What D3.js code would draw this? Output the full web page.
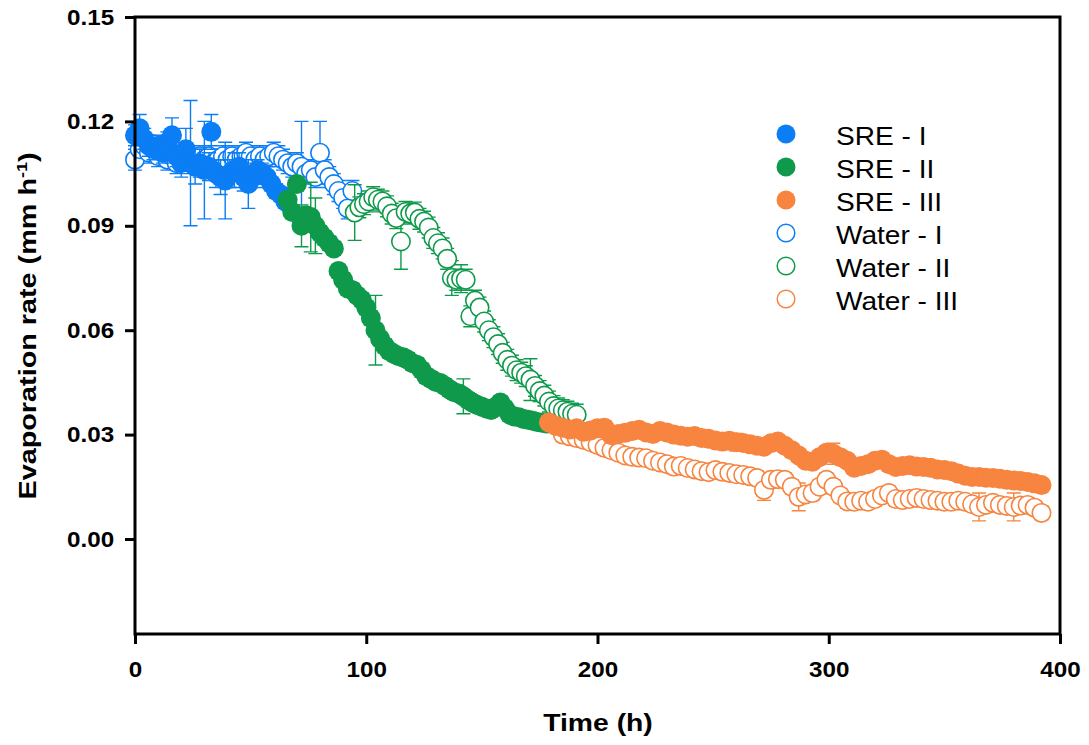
<!DOCTYPE html>
<html>
<head>
<meta charset="utf-8">
<script src="https://cdn.jsdelivr.net/npm/d3@7"></script>
<style>
  body { margin: 0; background: #fff; }
  text { font-family: "Liberation Sans", Arial, sans-serif; }
</style>
</head>
<body>
<div id="chart"></div>
<script>
// Colours
var blue = "#0b7df5", green = "#0f9a4b", orange = "#f7843f";

// SRE - I
var sreIHours = [0,2,4,6,8,10,12,14,16,18, 20,22,24,26,28,30,32,33,35,37,
                 39,41,43,45,47,49,51,53,55,57, 59,61,63,65];
var sreIRate = [0.116,0.118,0.115,0.113,0.112,0.113,0.111,0.114,0.116,0.110,
                0.108,0.112,0.108,0.107,0.108,0.106,0.107,0.117,0.105,0.104,
                0.103,0.105,0.106,0.107,0.104,0.102,0.104,0.106,0.105,0.104,
                0.102,0.100,0.099,0.097];
var sreIErr = [0.003,0.004,0.003,0.003,0.003,0.003,0.003,0.003,0.005,0.003,
               0.004,0.006,0.018,0.005,0.004,0.014,0.004,0.005,0.004,0.005,
               0.011,0.004,0.005,0.004,0.004,0.007,0.003,0.003,0.003,0.003,
               0.002,0.002,0.002,0.002];

// SRE - II
var sreIIHours = [66,68,70,72,74,76,78,80,82,84, 86,88,90,92,94,96,98,100,102,104,
                  106,108,110,112,114,116,118,120,122,124, 126,128,130,132,134,136,138,140,142,144,
                  146,148,150,152,154,156,158,160,162,164, 166,168,170,172,174,176,178];
var sreIIRate = [0.0975,0.0940,0.1020,0.0900,0.0930,0.0925,0.0900,0.0880,0.0865,0.0850,
                 0.0835,0.0770,0.0745,0.0720,0.0715,0.0700,0.0688,0.0665,0.0635,0.0600,
                 0.0575,0.0555,0.0540,0.0532,0.0525,0.0522,0.0515,0.0505,0.0500,0.0485,
                 0.0468,0.0460,0.0452,0.0448,0.0440,0.0430,0.0422,0.0418,0.0410,0.0400,
                 0.0392,0.0385,0.0380,0.0375,0.0371,0.0380,0.0392,0.0375,0.0358,0.0352,
                 0.0350,0.0345,0.0343,0.0340,0.0336,0.0334,0.0332];
var sreIIErr = [0.002,0.002,0.002,0.006,0.002,0.010,0.008,0.002,0.002,0.002,
                0.002,0.002,0.002,0.002,0.002,0.002,0.002,0.002,0.002,0.010,
                0.002,0.002,0.002,0.002,0.002,0.002,0.002,0.002,0.002,0.002,
                0.002,0.002,0.002,0.002,0.002,0.002,0.002,0.002,0.005,0.002,
                0.002,0.002,0.002,0.002,0.002,0.002,0.002,0.002,0.002,0.002,
                0.002,0.002,0.002,0.002,0.002,0.002,0.002];

// SRE - III
var sreIIIHours = [179,182,185,188,191,194,197,200,203,206, 209,212,215,218,221,224,227,230,233,236,
                   239,242,245,248,251,254,257,260,263,266, 269,272,275,278,281,284,287,290,293,296,
                   299,302,305,308,311,314,317,320,323,326, 329,332,335,338,341,344,347,350,353,356,
                   359,362,365,368,371,374,377,380,383,386, 389,392];
var sreIIIRate = [0.0335,0.0325,0.0320,0.0315,0.0318,0.0308,0.0312,0.0318,0.0320,0.0298,
                  0.0302,0.0305,0.0310,0.0314,0.0306,0.0302,0.0310,0.0306,0.0300,0.0297,
                  0.0294,0.0296,0.0290,0.0288,0.0283,0.0280,0.0282,0.0278,0.0276,0.0272,
                  0.0268,0.0265,0.0275,0.0280,0.0268,0.0255,0.0240,0.0225,0.0222,0.0235,
                  0.0248,0.0245,0.0235,0.0225,0.0205,0.0210,0.0215,0.0225,0.0228,0.0215,
                  0.0207,0.0210,0.0212,0.0208,0.0207,0.0205,0.0200,0.0198,0.0195,0.0188,
                  0.0182,0.0178,0.0178,0.0176,0.0175,0.0173,0.0170,0.0168,0.0167,0.0164,
                  0.0160,0.0155];
var sreIIIErr = [0.0015,0.0015,0.0015,0.0015,0.0015,0.0015,0.0015,0.0015,0.0015,0.0015,
                 0.0015,0.0015,0.0015,0.0015,0.0015,0.0015,0.0015,0.0015,0.0015,0.0015,
                 0.0015,0.0015,0.0015,0.0015,0.0015,0.0015,0.0015,0.0025,0.0015,0.0015,
                 0.0015,0.0015,0.0015,0.0015,0.0015,0.0015,0.0015,0.0015,0.0015,0.0015,
                 0.0015,0.0030,0.0015,0.0015,0.0015,0.0015,0.0015,0.0015,0.0015,0.0015,
                 0.0015,0.0015,0.0015,0.0015,0.0015,0.0015,0.0015,0.0015,0.0015,0.0015,
                 0.0015,0.0015,0.0015,0.0015,0.0015,0.0015,0.0015,0.0015,0.0015,0.0015,
                 0.0015,0.0015];

// Water - I
var waterIHours = [0,2,4,6,8,10,12,14,16,18, 20,22,24,26,28,30,32,34,36,38,
                   40,42,44,46,48,50,52,54,56,58, 60,62,64,66,68,70,72,74,76,78,
                   80,82,84,86,88,90,92,94];
var waterIRate = [0.109,0.112,0.113,0.111,0.112,0.110,0.111,0.109,0.110,0.108,
                  0.110,0.109,0.108,0.109,0.110,0.109,0.110,0.108,0.109,0.110,
                  0.109,0.110,0.109,0.110,0.111,0.110,0.109,0.110,0.109,0.110,
                  0.111,0.110,0.109,0.108,0.107,0.108,0.107,0.105,0.106,0.104,
                  0.111,0.106,0.104,0.102,0.100,0.098,0.095,0.100];
var waterIErr = [0.003,0.003,0.003,0.003,0.003,0.003,0.003,0.003,0.003,0.003,
                 0.003,0.003,0.003,0.003,0.003,0.003,0.003,0.003,0.003,0.003,
                 0.003,0.003,0.003,0.003,0.003,0.003,0.003,0.003,0.003,0.003,
                 0.003,0.003,0.003,0.003,0.003,0.003,0.013,0.003,0.003,0.003,
                 0.009,0.003,0.003,0.003,0.003,0.003,0.003,0.003];

// Water - II
var waterIIHours = [95,97,99,101,103,105,107,109,111,113, 115,117,119,121,123,125,127,129,131,133,
                    135,137,139,141,143,145,147,149,151,153, 155,157,159,161,163,165,167,169,171,173,
                    175,177,179,181,183,185,187,189,191];
var waterIIRate = [0.0938,0.0953,0.0962,0.0970,0.0982,0.0975,0.0970,0.0956,0.0935,0.0922,
                   0.0855,0.0940,0.0935,0.0938,0.0920,0.0912,0.0895,0.0865,0.0850,0.0835,
                   0.0805,0.0750,0.0745,0.0748,0.0745,0.0640,0.0685,0.0665,0.0625,0.0600,
                   0.0580,0.0560,0.0535,0.0515,0.0498,0.0485,0.0478,0.0468,0.0458,0.0440,
                   0.0425,0.0412,0.0395,0.0382,0.0375,0.0370,0.0366,0.0360,0.0357];
var waterIIErr = [0.008,0.003,0.003,0.003,0.003,0.003,0.003,0.003,0.003,0.003,
                  0.008,0.003,0.003,0.003,0.003,0.003,0.003,0.003,0.003,0.003,
                  0.003,0.005,0.003,0.004,0.003,0.003,0.003,0.003,0.003,0.003,
                  0.003,0.003,0.003,0.003,0.003,0.003,0.003,0.003,0.006,0.003,
                  0.003,0.003,0.003,0.003,0.003,0.003,0.003,0.003,0.003];

// Water - III
var waterIIIHours = [185,188,191,194,197,200,203,206,209,212, 215,218,221,224,227,230,233,236,239,242,
                     245,248,251,254,257,260,263,266,269,272, 275,278,281,284,287,290,293,296,299,302,
                     305,308,311,314,317,320,323,326,329,332, 335,338,341,344,347,350,353,356,359,362,
                     365,368,371,374,377,380,383,386,389,392];
var waterIIIRate = [0.0300,0.0295,0.0290,0.0285,0.0278,0.0270,0.0262,0.0255,0.0248,0.0240,
                    0.0236,0.0234,0.0232,0.0225,0.0220,0.0215,0.0208,0.0210,0.0204,0.0200,
                    0.0195,0.0192,0.0198,0.0193,0.0190,0.0186,0.0184,0.0180,0.0175,0.0141,
                    0.0170,0.0172,0.0170,0.0150,0.0121,0.0128,0.0132,0.0150,0.0170,0.0150,
                    0.0125,0.0108,0.0107,0.0110,0.0107,0.0115,0.0125,0.0132,0.0115,0.0112,
                    0.0115,0.0118,0.0115,0.0112,0.0110,0.0107,0.0107,0.0110,0.0107,0.0100,
                    0.0092,0.0098,0.0104,0.0098,0.0095,0.0092,0.0096,0.0098,0.0090,0.0075];
var waterIIIErr = [0.002,0.002,0.002,0.002,0.002,0.002,0.002,0.002,0.002,0.002,
                   0.002,0.002,0.002,0.002,0.002,0.002,0.002,0.002,0.002,0.002,
                   0.002,0.002,0.002,0.002,0.002,0.002,0.002,0.002,0.002,0.003,
                   0.002,0.002,0.002,0.002,0.004,0.002,0.002,0.002,0.002,0.002,
                   0.002,0.002,0.002,0.002,0.002,0.002,0.002,0.002,0.002,0.002,
                   0.002,0.002,0.002,0.002,0.002,0.002,0.002,0.002,0.002,0.002,
                   0.004,0.002,0.002,0.002,0.002,0.004,0.002,0.002,0.002,0.002];

// Axis ticks
var xTicks = [0, 100, 200, 300, 400];
var yTicks = [0.00, 0.03, 0.06, 0.09, 0.12, 0.15];

// Series (legend order)
var series = [
    {name: "SRE - I",     hours: sreIHours,     rate: sreIRate,     err: sreIErr,     color: blue,   filled: true},
    {name: "SRE - II",    hours: sreIIHours,    rate: sreIIRate,    err: sreIIErr,    color: green,  filled: true},
    {name: "SRE - III",   hours: sreIIIHours,   rate: sreIIIRate,   err: sreIIIErr,   color: orange, filled: true},
    {name: "Water - I",   hours: waterIHours,   rate: waterIRate,   err: waterIErr,   color: blue,   filled: false},
    {name: "Water - II",  hours: waterIIHours,  rate: waterIIRate,  err: waterIIErr,  color: green,  filled: false},
    {name: "Water - III", hours: waterIIIHours, rate: waterIIIRate, err: waterIIIErr, color: orange, filled: false}
];

var width = 1089, height = 745;
var plotLeft = 135, plotRight = 1060, plotTop = 17, plotBottom = 634;

var svg = d3.select("#chart").append("svg")
    .attr("width", width)
    .attr("height", height);

var x = d3.scaleLinear().domain([0, 400]).range([plotLeft, plotRight]);
var y = d3.scaleLinear().domain([-0.0273, 0.15]).range([plotBottom, plotTop]);

var r = 10, cap = 7;

// Water drawn first, SRE on top
var drawOrder = series.slice(3).concat(series.slice(0, 3));

drawOrder.forEach(function (s) {
    var pts = s.hours.map(function (h, i) {
        return {h: h, v: s.rate[i], e: s.err[i]};
    });
    var g = svg.append("g");

    var eb = g.append("g")
        .attr("stroke", s.color)
        .attr("stroke-width", 1.4)
        .attr("fill", "none");
    eb.selectAll("path")
        .data(pts)
        .enter()
        .append("path")
        .attr("d", function (d) {
            var px = x(d.h), y0 = y(d.v - d.e), y1 = y(d.v + d.e);
            return "M" + px + "," + y0 + "V" + y1 +
                   "M" + (px - cap) + "," + y1 + "H" + (px + cap) +
                   "M" + (px - cap) + "," + y0 + "H" + (px + cap);
        });

    g.append("g").selectAll("circle")
        .data(pts)
        .enter()
        .append("circle")
        .attr("cx", function (d) { return x(d.h); })
        .attr("cy", function (d) { return y(d.v); })
        .attr("r", s.filled ? r : r - 0.8)
        .attr("fill", s.filled ? s.color : "#fff")
        .attr("stroke", s.color)
        .attr("stroke-width", s.filled ? 0 : 1.6);
});

// Frame
svg.append("rect")
    .attr("x", plotLeft)
    .attr("y", plotTop)
    .attr("width", plotRight - plotLeft)
    .attr("height", plotBottom - plotTop)
    .attr("fill", "none")
    .attr("stroke", "#000")
    .attr("stroke-width", 3);

// Axes
var xAxis = svg.append("g")
    .attr("transform", "translate(0," + plotBottom + ")")
    .call(d3.axisBottom(x).tickValues(xTicks).tickFormat(d3.format("d"))
        .tickSize(10).tickSizeOuter(0).tickPadding(17));
var yAxis = svg.append("g")
    .attr("transform", "translate(" + plotLeft + ",0)")
    .call(d3.axisLeft(y).tickValues(yTicks).tickFormat(d3.format(".2f"))
        .tickSize(10).tickSizeOuter(0).tickPadding(9));

[xAxis, yAxis].forEach(function (a) {
    a.select(".domain").remove();
    a.selectAll(".tick line").attr("stroke", "#000").attr("stroke-width", 3);
    a.selectAll(".tick text")
        .attr("fill", "#000")
        .attr("transform", "scale(1.1,1)")
        .style("font-size", "22px")
        .style("font-weight", "bold")
        .style("font-family", '"Liberation Sans", Arial, sans-serif');
});

// Axis titles
svg.append("text")
    .attr("transform", "translate(598,731) scale(1.18,1)")
    .attr("text-anchor", "middle")
    .style("font-size", "24px")
    .style("font-weight", "bold")
    .text("Time (h)");

var yTitle = svg.append("text")
    .attr("transform", "translate(36,326) rotate(-90) scale(1.2,1)")
    .attr("text-anchor", "middle")
    .style("font-size", "24px")
    .style("font-weight", "bold");
yTitle.append("tspan").text("Evaporation rate (mm h");
yTitle.append("tspan").attr("dy", -9).style("font-size", "15px").text("-1");
yTitle.append("tspan").attr("dy", 9).text(")");

// Legend
var legend = svg.append("g");
var legendRows = legend.selectAll("g")
    .data(series)
    .enter()
    .append("g")
    .attr("transform", function (d, i) { return "translate(786," + (134 + i * 33) + ")"; });
legendRows.append("circle")
    .attr("r", function (d) { return d.filled ? 9.5 : 8.8; })
    .attr("fill", function (d) { return d.filled ? d.color : "#fff"; })
    .attr("stroke", function (d) { return d.color; })
    .attr("stroke-width", function (d) { return d.filled ? 0 : 1.5; });
legendRows.append("text")
    .attr("transform", "translate(50,10.5) scale(1.08,1)")
    .style("font-size", "26px")
    .attr("fill", "#000")
    .text(function (d) { return d.name; });
</script>
</body>
</html>
